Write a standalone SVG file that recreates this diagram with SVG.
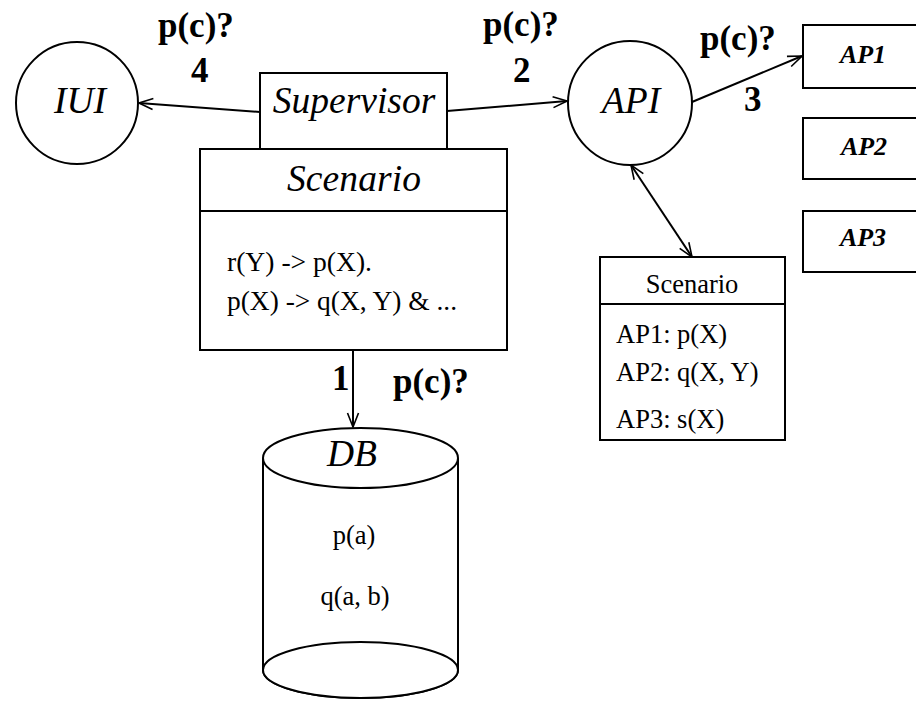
<svg xmlns="http://www.w3.org/2000/svg" width="916" height="703" viewBox="0 0 916 703">
  <defs>
    <style>
      .shape { fill: #fff; stroke: #000; stroke-width: 2; }
      .line { fill: none; stroke: #000; stroke-width: 2; }
      .ital { font-family: "Liberation Serif", "DejaVu Serif", serif; font-style: italic; font-size: 37.5px; fill: #000; text-anchor: middle; }
      .apl { font-family: "Liberation Serif", "DejaVu Serif", serif; font-style: italic; font-weight: bold; font-size: 26px; fill: #000; text-anchor: middle; }
      .body { font-family: "Liberation Serif", "DejaVu Serif", serif; font-size: 26.5px; fill: #000; }
      .lbl { font-family: "Liberation Serif", "DejaVu Serif", serif; font-weight: bold; font-size: 35px; fill: #000; }
    </style>
    <marker id="arrow" viewBox="-1 -7 16 14" markerWidth="16" markerHeight="14" refX="14" refY="0" orient="auto-start-reverse" markerUnits="userSpaceOnUse">
      <path d="M0,-5.5 L14,0 L0,5.5" fill="none" stroke="#000" stroke-width="1.6"/>
    </marker>
  </defs>

  <!-- IUI -->
  <g id="iui">
    <circle class="shape" cx="77" cy="103" r="61"/>
    <text class="ital" x="80" y="113">IUI</text>
  </g>

  <!-- Supervisor -->
  <g id="supervisor">
    <rect class="shape" x="260" y="73" width="187" height="76"/>
    <text class="ital" x="354" y="113">Supervisor</text>
  </g>

  <!-- Scenario with rules -->
  <g id="scenario">
    <rect class="shape" x="200" y="149" width="307" height="201"/>
    <line class="line" x1="200" y1="211" x2="507" y2="211"/>
    <text class="ital" x="354" y="191" textLength="134" lengthAdjust="spacing">Scenario</text>
    <text class="body" x="227" y="271" font-size="27" textLength="145" lengthAdjust="spacingAndGlyphs">r(Y) -&gt; p(X).</text>
    <text class="body" x="227" y="310" font-size="27" textLength="230" lengthAdjust="spacingAndGlyphs">p(X) -&gt; q(X, Y) &amp; ...</text>
  </g>

  <!-- API -->
  <g id="api">
    <circle class="shape" cx="630" cy="103" r="62"/>
    <text class="ital" x="631" y="113">API</text>
  </g>

  <!-- Access points -->
  <g id="ap1">
    <rect class="shape" x="803" y="25" width="130" height="63"/>
    <text class="apl" x="863" y="63">AP1</text>
  </g>
  <g id="ap2">
    <rect class="shape" x="803" y="118" width="130" height="61"/>
    <text class="apl" x="864" y="155">AP2</text>
  </g>
  <g id="ap3">
    <rect class="shape" x="803" y="211" width="130" height="61"/>
    <text class="apl" x="863" y="246">AP3</text>
  </g>

  <!-- API scenario table -->
  <g id="api-scenario">
    <rect class="shape" x="600" y="257" width="185" height="183"/>
    <line class="line" x1="600" y1="304" x2="785" y2="304"/>
    <text class="body" x="692" y="293" text-anchor="middle">Scenario</text>
    <text class="body" x="616" y="343">AP1: p(X)</text>
    <text class="body" x="616" y="381">AP2: q(X, Y)</text>
    <text class="body" x="616" y="428">AP3: s(X)</text>
  </g>

  <!-- DB cylinder -->
  <g id="db">
    <path class="shape" d="M263,458 L263,670 A97.5,28 0 0 0 458,670 L458,458"/>
    <ellipse class="shape" cx="360.5" cy="670" rx="97.5" ry="28"/>
    <ellipse class="shape" cx="360.5" cy="458" rx="97.5" ry="30"/>
    <text class="ital" x="352" y="466">DB</text>
    <text class="body" x="354" y="544" text-anchor="middle" font-size="32">p(a)</text>
    <text class="body" x="355" y="605" text-anchor="middle" font-size="32">q(a, b)</text>
  </g>

  <!-- Connectors -->
  <g id="connectors">
    <line class="line" x1="260" y1="112" x2="139" y2="103" marker-end="url(#arrow)"/>
    <line class="line" x1="447" y1="111" x2="567" y2="101" marker-end="url(#arrow)"/>
    <line class="line" x1="692" y1="102" x2="802" y2="56" marker-end="url(#arrow)"/>
    <line class="line" x1="353" y1="350" x2="353" y2="427" marker-end="url(#arrow)"/>
    <line class="line" x1="631" y1="165" x2="692" y2="257" marker-start="url(#arrow)" marker-end="url(#arrow)"/>
  </g>

  <!-- Message labels -->
  <g id="labels">
    <text class="lbl" x="158" y="37">p(c)?</text>
    <text class="lbl" x="191" y="82">4</text>
    <text class="lbl" x="483" y="36">p(c)?</text>
    <text class="lbl" x="513" y="82">2</text>
    <text class="lbl" x="700" y="50">p(c)?</text>
    <text class="lbl" x="744" y="111">3</text>
    <text class="lbl" x="332" y="390">1</text>
    <text class="lbl" x="393" y="393">p(c)?</text>
  </g>
</svg>
